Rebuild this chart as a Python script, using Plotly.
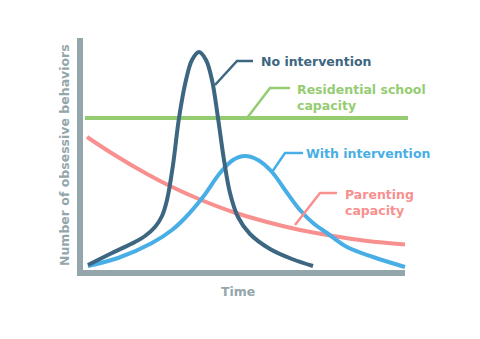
import plotly.graph_objects as go

# Time runs from the axis corner to the right; behaviours count upward from the time axis.
time_none = [8, 32, 55, 65, 75, 82, 87, 93, 99, 106, 112, 119, 126, 132, 138, 144, 150, 158,
             170, 190, 212, 233]
beh_none = [8, 20, 31, 37, 46, 57, 73, 108, 155, 193, 213, 221, 213, 193, 155, 113, 80, 56,
            39, 24, 14, 7]

time_with = [8, 38, 72, 92, 105, 123, 140, 153, 165, 178, 192, 205, 220, 233, 247, 267, 293, 325]
beh_with = [7, 15, 30, 43, 55, 76, 100, 113, 117, 113, 101, 83, 63, 50, 40, 26, 16, 6]

time_parent = [7, 33, 67, 90, 120, 153, 187, 220, 253, 287, 325]
beh_parent = [136, 119, 99, 87, 73.5, 61, 51, 43, 37, 32, 28.6]

time_school = [5, 328]
beh_school = [155, 155]

axis_time = [0, 325]
axis_top = 235

DARK = "#3d6681"
BLUE = "#48aee6"
PINK = "#f7908e"
GREEN = "#95cc72"
GREY = "#93a6ab"
FONT = "DejaVu Sans"

fig = go.Figure()

# axes drawn as a single L-shaped stroke
fig.add_trace(go.Scatter(x=[axis_time[0], axis_time[0], axis_time[1]], y=[axis_top, 0, 0],
                         mode="lines", line=dict(color=GREY, width=6), hoverinfo="skip"))

fig.add_trace(go.Scatter(x=time_school, y=beh_school, mode="lines",
                         line=dict(color=GREEN, width=4)))
fig.add_trace(go.Scatter(x=time_parent, y=beh_parent, mode="lines",
                         line=dict(color=PINK, width=4, shape="spline", smoothing=1)))
fig.add_trace(go.Scatter(x=time_with, y=beh_with, mode="lines",
                         line=dict(color=BLUE, width=4, shape="spline", smoothing=1)))
fig.add_trace(go.Scatter(x=time_none, y=beh_none, mode="lines",
                         line=dict(color=DARK, width=4, shape="spline", smoothing=1)))

# callout leaders: (x, y) points from curve to label
leaders = [
    ([135, 157, 173], [188, 212, 212], DARK),
    ([167, 190, 210], [155, 185, 185], GREEN),
    ([192, 205, 223], [101, 120, 120], BLUE),
    ([215, 240, 257], [48, 80, 80], PINK),
]
for lx, ly, c in leaders:
    fig.add_trace(go.Scatter(x=lx, y=ly, mode="lines", line=dict(color=c, width=2.5)))

labels = [
    (179, 212, "No intervention", DARK),
    (215, 176, "Residential school<br>capacity", GREEN),
    (224, 120, "With intervention", BLUE),
    (263, 71, "Parenting<br>capacity", PINK),
]
for ax_, ay_, txt, c in labels:
    fig.add_annotation(x=ax_, y=ay_, text=f"<b>{txt}</b>", showarrow=False,
                       xanchor="left", yanchor="middle", align="left",
                       font=dict(family=FONT, size=12.5, color=c))

fig.add_annotation(x=-16, y=118, text="<b>Number of obsessive behaviors</b>", textangle=-90,
                   showarrow=False, xanchor="center", yanchor="middle",
                   font=dict(family=FONT, size=12.5, color=GREY))
fig.add_annotation(x=158, y=-18, text="<b>Time</b>", showarrow=False,
                   xanchor="center", yanchor="middle",
                   font=dict(family=FONT, size=12.5, color=GREY))

fig.update_layout(
    width=480, height=339, margin=dict(l=0, r=0, t=0, b=0),
    paper_bgcolor="white", plot_bgcolor="white", showlegend=False,
    xaxis=dict(range=[-80, 400], visible=False, fixedrange=True),
    yaxis=dict(range=[-66, 273], visible=False, fixedrange=True),
)

fig.write_html("out.html")
